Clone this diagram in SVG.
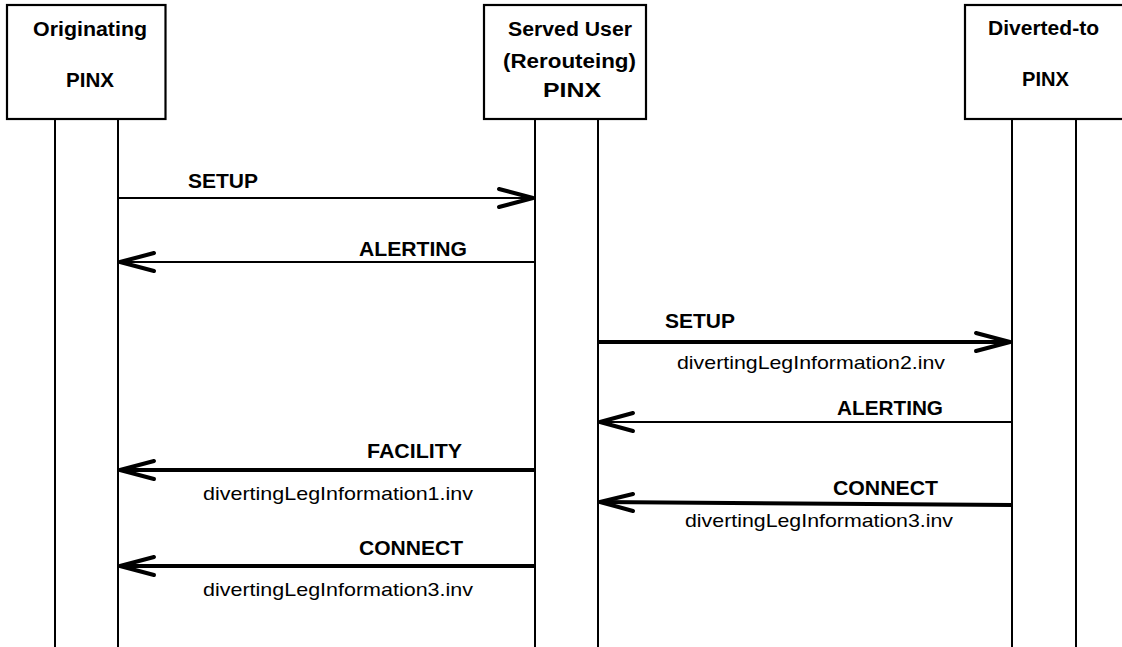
<svg xmlns="http://www.w3.org/2000/svg" width="1122" height="647" viewBox="0 0 1122 647">
<style>
.box{fill:#fff;stroke:#000;stroke-width:2.2}
.life{stroke:#000;stroke-width:2}
.thin{stroke:#000;stroke-width:2;fill:none}
.thick{stroke:#000;stroke-width:4;fill:none}
.head{stroke:#000;stroke-width:4;fill:none;stroke-linecap:round;stroke-linejoin:round}
.b{font-family:"Liberation Sans",Arial,sans-serif;font-weight:bold;font-size:20px;fill:#000}
.r{font-family:"Liberation Sans",Arial,sans-serif;font-size:19px;fill:#000}
</style>
<rect width="1122" height="647" fill="#fff"/>
<g id="node-originating">
<rect class="box" x="7" y="5" width="158.5" height="114"/>
<line class="life" x1="55" y1="119" x2="55" y2="647"/>
<line class="life" x1="118" y1="119" x2="118" y2="647"/>
<text class="b" x="33" y="36" textLength="114" lengthAdjust="spacingAndGlyphs">Originating</text>
<text class="b" x="66" y="87" textLength="48" lengthAdjust="spacingAndGlyphs">PINX</text>
</g>
<g id="node-served">
<rect class="box" x="484" y="5" width="162" height="114"/>
<line class="life" x1="535" y1="119" x2="535" y2="647"/>
<line class="life" x1="598" y1="119" x2="598" y2="647"/>
<text class="b" x="508" y="36" textLength="124" lengthAdjust="spacingAndGlyphs">Served User</text>
<text class="b" x="503" y="68" textLength="133" lengthAdjust="spacingAndGlyphs">(Rerouteing)</text>
<text class="b" x="543" y="97" textLength="58" lengthAdjust="spacingAndGlyphs">PINX</text>
</g>
<g id="node-diverted">
<rect class="box" x="965" y="5" width="170" height="114"/>
<line class="life" x1="1012" y1="119" x2="1012" y2="647"/>
<line class="life" x1="1076" y1="119" x2="1076" y2="647"/>
<text class="b" x="988" y="35" textLength="111" lengthAdjust="spacingAndGlyphs">Diverted-to</text>
<text class="b" x="1022" y="86" textLength="47" lengthAdjust="spacingAndGlyphs">PINX</text>
</g>
<g id="connectors">
<line class="thin" x1="118" y1="198" x2="533" y2="198"/>
<polyline class="head" points="499,189 533,198 499,207"/>
<text class="b" x="188" y="188" textLength="70" lengthAdjust="spacingAndGlyphs">SETUP</text>

<line class="thin" x1="535" y1="262" x2="120" y2="262"/>
<polyline class="head" points="154,253 120,262 154,271"/>
<text class="b" x="359" y="256" textLength="108" lengthAdjust="spacingAndGlyphs">ALERTING</text>

<line class="thick" x1="598" y1="342" x2="1010" y2="342"/>
<polyline class="head" points="976,333 1010,342 976,351"/>
<text class="b" x="665" y="328" textLength="70" lengthAdjust="spacingAndGlyphs">SETUP</text>
<text class="r" x="677" y="369" textLength="268" lengthAdjust="spacingAndGlyphs">divertingLegInformation2.inv</text>

<line class="thin" x1="1012" y1="422" x2="600" y2="422"/>
<polyline class="head" points="633,413 600,422 633,431"/>
<text class="b" x="837" y="415" textLength="106" lengthAdjust="spacingAndGlyphs">ALERTING</text>

<line class="thick" x1="535" y1="470" x2="120" y2="470"/>
<polyline class="head" points="154,461 120,470 154,479"/>
<text class="b" x="367" y="458" textLength="95" lengthAdjust="spacingAndGlyphs">FACILITY</text>
<text class="r" x="203" y="500" textLength="270" lengthAdjust="spacingAndGlyphs">divertingLegInformation1.inv</text>

<line class="thick" x1="1012" y1="505" x2="600" y2="502"/>
<polyline class="head" points="633,494 600,502 633,511"/>
<text class="b" x="833" y="495" textLength="105" lengthAdjust="spacingAndGlyphs">CONNECT</text>
<text class="r" x="685" y="527" textLength="268" lengthAdjust="spacingAndGlyphs">divertingLegInformation3.inv</text>

<line class="thick" x1="535" y1="566" x2="120" y2="566"/>
<polyline class="head" points="154,557 120,566 154,575"/>
<text class="b" x="359" y="555" textLength="104" lengthAdjust="spacingAndGlyphs">CONNECT</text>
<text class="r" x="203" y="596" textLength="270" lengthAdjust="spacingAndGlyphs">divertingLegInformation3.inv</text>
</g>
</svg>
